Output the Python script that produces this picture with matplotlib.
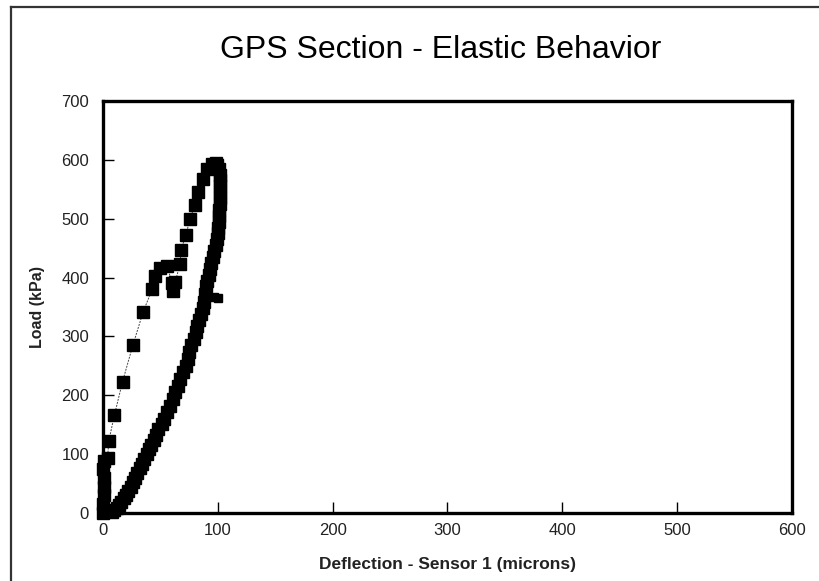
import matplotlib
matplotlib.use("Agg")
import matplotlib.pyplot as plt
from matplotlib.lines import Line2D

# --- data ---
load_defl = [0, 0, 1, 1, 1, 0, 1, 4, 5, 10, 17, 26, 35, 43, 45, 50, 56, 60, 61,
             63, 67, 68, 72, 76, 80, 83, 87, 91, 95, 98]
load_kpa = [0, 15, 30, 45, 60, 75, 88, 93, 122, 167, 223, 285, 342, 381, 403, 416, 420, 390, 378,
            393, 423, 447, 472, 500, 524, 545, 568, 585, 593, 595]

unload_defl = [99, 101, 102, 102, 102, 102, 102, 102, 101, 101, 101, 100, 100, 99, 98, 97,
               96, 94, 93, 92, 91, 90, 89, 88, 87, 85, 84, 82, 81, 79, 77, 75, 74, 72,
               70, 67, 65, 63, 61, 58, 56, 53, 51, 48, 46, 44, 42, 40, 38, 36, 34, 32,
               30, 28, 26, 24, 22, 20, 18, 16, 14, 12, 10, 8]
unload_kpa = [592, 585, 575, 565, 555, 545, 535, 525, 515, 505, 495, 485, 475, 465, 455, 445,
              435, 425, 415, 405, 395, 385, 372, 359, 348, 338, 328, 318, 307, 296, 285, 274,
              262, 250, 239, 228, 216, 205, 193, 182, 171, 160, 151, 142, 133, 124, 116, 108,
              100, 92, 84, 76, 68, 60, 52, 45, 38, 31, 25, 19, 14, 9, 5, 1]

stray_defl = [97, 100]
stray_kpa = [367, 366]

x_ticks = [0, 100, 200, 300, 400, 500, 600]
y_ticks = [0, 100, 200, 300, 400, 500, 600, 700]

plain_font = ["Liberation Sans", "DejaVu Sans"]

fig = plt.figure(figsize=(8.2, 5.81), dpi=100)
ax = fig.add_axes([103 / 820, 1 - 513 / 581, 689 / 820, 412 / 581])

# loading branch with thin connecting line
ax.plot(load_defl, load_kpa, color="#444444", lw=0.7, ls=(0, (2, 1.2)), zorder=2)
ax.plot(load_defl, load_kpa, ls="none", marker="s", ms=9, color="black",
        clip_on=False, zorder=3)
# unloading branch, markers only
ax.plot(unload_defl, unload_kpa, ls="none", marker="s", ms=9, color="black",
        clip_on=False, zorder=3)
ax.plot(stray_defl, stray_kpa, ls="none", marker="s", ms=6, color="black", zorder=3)

ax.set_xlim(0, 600)
ax.set_ylim(0, 700)
ax.set_xticks(x_ticks)
ax.set_yticks(y_ticks)
ax.tick_params(direction="in", length=8, width=1, colors="black", labelsize=12)
ax.tick_params(axis="x", pad=7)
ax.tick_params(axis="y", pad=10)
for lab in ax.get_xticklabels() + ax.get_yticklabels():
    lab.set_family(plain_font)
    lab.set_color("#222222")

for sp in ax.spines.values():
    sp.set_linewidth(2.4)
    sp.set_color("black")

ax.set_xlabel("Deflection - Sensor 1 (microns)", family=plain_font, fontsize=12.5,
              fontweight="bold", color="#222222", labelpad=14)
ax.set_ylabel("Load (kPa)", family=plain_font, fontsize=11.5, fontweight="bold",
              color="#222222", labelpad=12)

fig.text(441 / 820, 1 - 50 / 581, "GPS Section - Elastic Behavior", family=plain_font,
         fontsize=23, ha="center", va="center", color="black")

# outer frame (left and top edges visible in the reference)
fig.add_artist(Line2D([11 / 820, 11 / 820], [0, 1 - 6.5 / 581], color="#333333", lw=1.6))
fig.add_artist(Line2D([11 / 820, 1], [1 - 6.5 / 581, 1 - 6.5 / 581], color="#333333", lw=1.6))

fig.savefig("out.png", dpi=100, facecolor="white")
